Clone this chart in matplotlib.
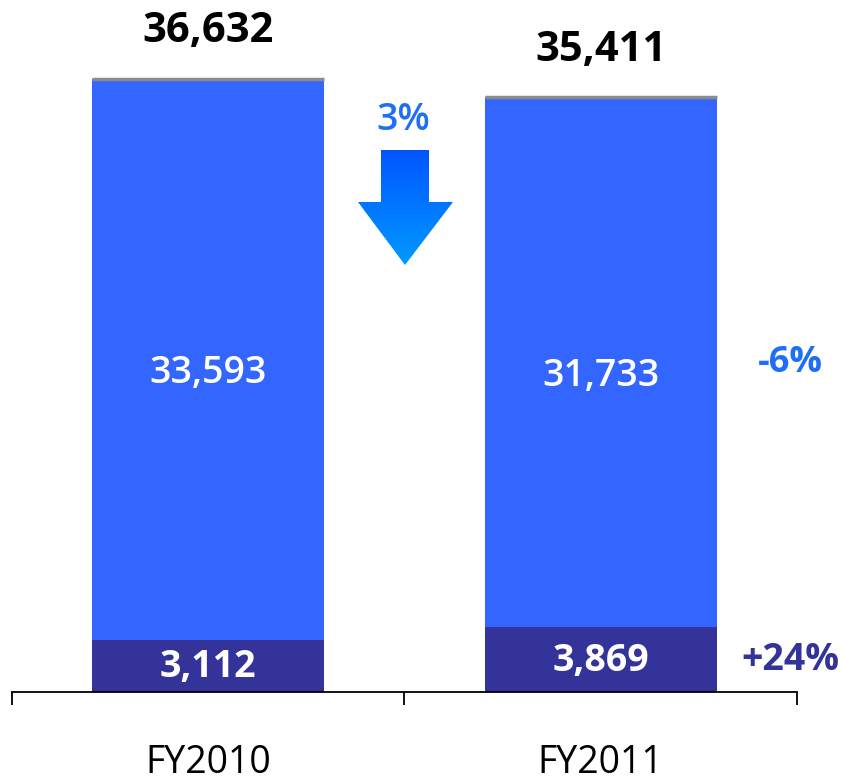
import matplotlib
matplotlib.use("Agg")
import matplotlib.pyplot as plt
import numpy as np
from matplotlib.patches import Polygon
from matplotlib.colors import LinearSegmentedColormap

plt.rcParams['font.family'] = ['Open Sans', 'DejaVu Sans']

categories = ["FY2010", "FY2011"]
bottom_vals = [3112, 3869]
top_vals = [33593, 31733]
totals = [36632, 35411]
bottom_labels = ["3,112", "3,869"]
top_labels = ["33,593", "31,733"]
total_labels = ["36,632", "35,411"]
change_total = "3%"
change_top = "-6%"
change_bottom = "+24%"

C_TOP = "#3366FF"
C_BOT = "#333399"
C_CHG = "#1F6FF5"

fig = plt.figure(figsize=(8.45, 7.8), dpi=100)
ax = fig.add_axes([12/845, 88/780, 785/845, 692/780])
x = np.arange(len(categories))
w = 0.59
ax.bar(x, bottom_vals, width=w, color=C_BOT, zorder=2)
ax.bar(x, top_vals, width=w, bottom=bottom_vals, color=C_TOP, zorder=2)
stack = np.array(bottom_vals) + np.array(top_vals)
for xi, s in zip(x, stack):
    ax.hlines(s, xi - w/2, xi + w/2, color="#8C8C8C", lw=2.5, zorder=3)
ax.hlines(0, 1 - w/2, 1 + w/2, color="#777777", lw=3, zorder=1)

ax.set_xlim(-0.5, 1.5)
ax.set_ylim(0, 41435)
for s in ["top", "right", "left"]:
    ax.spines[s].set_visible(False)
ax.spines["bottom"].set_linewidth(1.3)
ax.spines["bottom"].set_zorder(4)
ax.set_yticks([])
ax.set_xticks([-0.5, 0.5, 1.5])
ax.set_xticklabels([])
ax.tick_params(axis="x", direction="out", length=9.5, width=1.3)

for xi in x:
    ax.annotate(total_labels[xi], (xi, stack[xi]), xytext=(0, 34),
                textcoords="offset points", ha="center", va="center",
                fontsize=30, fontweight="bold", color="black")
    ax.annotate(top_labels[xi], (xi, bottom_vals[xi] + top_vals[xi]/2),
                xytext=(0, -10), textcoords="offset points", ha="center",
                va="center", fontsize=27, fontweight="semibold", color="white")
    ax.annotate(bottom_labels[xi], (xi, bottom_vals[xi]/2),
                xytext=(0, -1), textcoords="offset points", ha="center",
                va="center", fontsize=27, fontweight="bold", color="white")
    ax.annotate(categories[xi], (xi, 0), xytext=(0, -58),
                textcoords="offset points", ha="center", va="baseline",
                fontsize=27, color="black", annotation_clip=False)

def px(xp, yp):
    return xp/845, 1 - yp/780

fig.text(*px(403, 120), change_total, ha="center", va="center",
         fontsize=27, fontweight="semibold", color=C_CHG)
fig.text(*px(790, 363), change_top, ha="center", va="center",
         fontsize=26, fontweight="bold", color=C_CHG)
fig.text(*px(790, 660), change_bottom, ha="center", va="center",
         fontsize=27, fontweight="bold", color=C_BOT)

# gradient down arrow
arrow_pts = [(381, 150), (429, 150), (429, 202), (453, 202), (405, 265),
             (358, 202), (381, 202)]
pts = [px(a, b) for a, b in arrow_pts]
poly = Polygon(pts, closed=True, transform=fig.transFigure, facecolor="none",
               edgecolor="none")
fig.add_artist(poly)
grad = np.linspace(0, 1, 256).reshape(-1, 1)
cmap = LinearSegmentedColormap.from_list("g", ["#0055FF", "#0099FF"])
gax = fig.add_axes([358/845, 1 - 265/780, 95/845, 115/780])
gax.axis("off")
im = gax.imshow(grad, aspect="auto", cmap=cmap, extent=[0, 1, 0, 1],
                origin="upper")
im.set_clip_path(poly)

fig.savefig("out.png", dpi=100)
